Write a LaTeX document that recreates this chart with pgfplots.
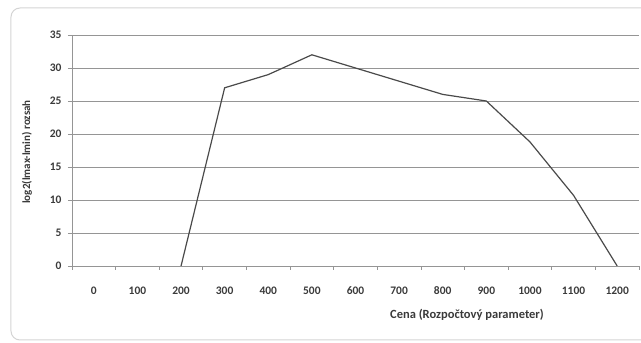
\documentclass[border=0pt]{standalone}
\usepackage{pgfplots}
\pgfplotsset{compat=1.18}
\usepackage{fontspec}
\setmainfont{Carlito}
\definecolor{txt}{HTML}{3A3A3A}
\definecolor{grd}{HTML}{959595}
\definecolor{ln}{HTML}{4A4A4A}
\definecolor{frm}{HTML}{D4D4D4}
\begin{document}
\begin{tikzpicture}
\useasboundingbox (-72pt,-77pt) rectangle (569pt,266pt);
\begin{scope}
\clip (-72pt,-77pt) rectangle (569pt,266pt);
\draw[frm, line width=1pt, rounded corners=9pt] (-61pt,-74pt) rectangle (600pt,258pt);
\end{scope}
\begin{axis}[
  at={(0pt,0pt)}, anchor=south west,
  scale only axis, width=567pt, height=231pt,
  xmin=-0.5, xmax=12.5, ymin=0, ymax=35,
  axis lines*=left,
  axis line style={grd, line width=0.8pt},
  xtick={0,1,...,12},
  xticklabels={0,100,200,300,400,500,600,700,800,900,1000,1100,1200},
  minor xtick={-0.5,0.5,...,12.5},
  ytick={0,5,...,35},
  major x tick style={draw=none},
  minor tick length=4pt,
  major tick length=4pt,
  tick align=outside,
  tick style={grd, line width=0.8pt},
  ymajorgrids, major grid style={grd, line width=0.8pt},
  ticklabel style={font=\fontsize{11.5}{13}\selectfont\bfseries, text=txt},
  /pgf/number format/assume math mode=true,
  xticklabel style={yshift=-13pt},
  yticklabel style={xshift=-3pt},
]
\addplot[ln, line width=1.2pt] coordinates {
 (2,0) (3,27) (4,29) (5,32) (6,30) (7,28) (8,26) (9,25) (10,18.8) (11,10.7) (12,0)
};
\end{axis}
\node[rotate=90, text=txt, font=\fontsize{11}{13}\selectfont\bfseries] at (-45pt,114pt) {log2(lmax-lmin) rozsah};
\node[text=txt, font=\fontsize{12.5}{14}\selectfont\bfseries] at (395pt,-49pt) {Cena (Rozpočtový parameter)};
\end{tikzpicture}
\end{document}
